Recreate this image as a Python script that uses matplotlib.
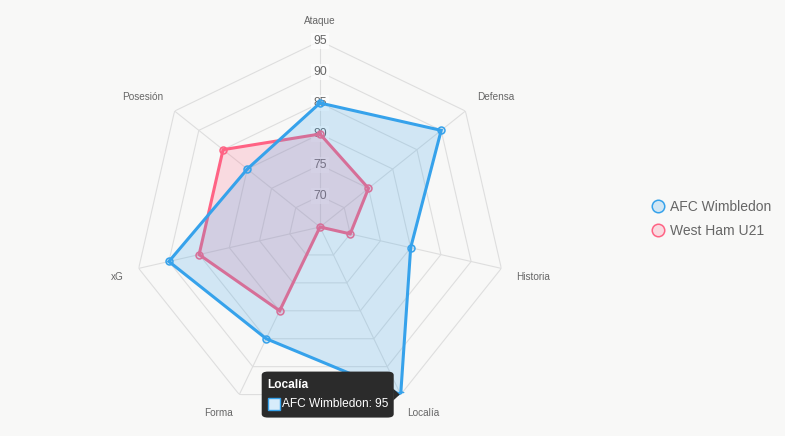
import numpy as np
import matplotlib
matplotlib.use("Agg")
from matplotlib import pyplot as plt
from matplotlib.lines import Line2D
from matplotlib.patches import FancyBboxPatch, Polygon, Rectangle

W, H = 785, 436
BG = '#f8f8f7'
GRID = '#dedede'
TEXT = '#666666'
BLUE = '#36a2eb'
PINK = '#ff6384'

labels = ['Ataque', 'Defensa', 'Historia', 'Localía', 'Forma', 'xG', 'Posesión']
afc_wimbledon = [85, 90, 80, 95, 85, 90, 80]
west_ham_u21 = [80, 75, 70, 65, 80, 85, 85]
ticks = [70, 75, 80, 85, 90, 95]
r_min, r_max = 65, 95

plt.rcParams['font.family'] = ['Liberation Sans', 'DejaVu Sans']

fig = plt.figure(figsize=(W / 100, H / 100), dpi=100, facecolor=BG)
ax = fig.add_axes([134 / W, 23 / H, 372 / W, 372 / H], projection='polar')
ax.set_theta_offset(np.pi / 2)
ax.set_theta_direction(-1)
ax.set_ylim(r_min, r_max)
ax.set_axis_off()

n = len(labels)
angles = np.arange(n) * 2 * np.pi / n
closed = np.append(angles, angles[0])

# polygon grid + spokes
for t in ticks:
    ax.plot(closed, [t] * (n + 1), color=GRID, lw=0.8, zorder=1)
for a in angles:
    ax.plot([a, a], [r_min, r_max], color=GRID, lw=0.8, zorder=1)

# tick labels along the top spoke
for t in ticks:
    ax.text(0, t, str(t), ha='center', va='center', fontsize=8.8, color=TEXT,
            zorder=2, bbox=dict(boxstyle='square,pad=0.15', fc='white',
                                ec='none', alpha=0.7))

# point labels, placed a bit outside the outer ring
r_lab = r_max + 15 / 6.2
for a, lab in zip(angles, labels):
    deg = np.degrees(a) % 360
    if np.isclose(deg, 0) or np.isclose(deg, 180):
        ha = 'center'
    elif deg < 180:
        ha = 'left'
    else:
        ha = 'right'
    va = 'bottom' if (deg < 90 or deg > 270) else 'top'
    ax.text(a, r_lab, lab, ha=ha, va=va, fontsize=7.2, color=TEXT, clip_on=False)


def draw_series(values, color, z):
    vals = np.append(values, values[0])
    ax.fill(closed, vals, color=color, alpha=0.2, lw=0, zorder=z)
    ax.plot(closed, vals, color=color, lw=2.2, zorder=z + 0.1,
            solid_joinstyle='miter')
    ax.plot(angles, values, ls='', marker='o', ms=5, mew=1.1,
            mfc=matplotlib.colors.to_rgba(color, 0.2), mec=color, zorder=z + 0.2)


# second dataset is painted first, like the original
draw_series(west_ham_u21, PINK, 3)
draw_series(afc_wimbledon, BLUE, 4)

# legend
handles = [
    Line2D([], [], ls='', marker='o', ms=9, mew=1.1,
           mfc=matplotlib.colors.to_rgba(BLUE, 0.2), mec=BLUE),
    Line2D([], [], ls='', marker='o', ms=9, mew=1.1,
           mfc=matplotlib.colors.to_rgba(PINK, 0.2), mec=PINK),
]
fig.legend(handles, ['AFC Wimbledon', 'West Ham U21'], loc='center left',
           bbox_to_anchor=(637 / W, 1 - 219 / H), frameon=False, fontsize=10,
           labelcolor=TEXT, handletextpad=0.3, labelspacing=0.75,
           handlelength=1.2)

# tooltip at the hovered point (Localía, AFC Wimbledon)
idx = labels.index('Localía')
px, py = ax.transData.transform((angles[idx], afc_wimbledon[idx]))
bw, bh = 132, 46
right = px - 7
left = right - bw
bottom = py - bh / 2
tip = '#2b2b2b'
fig.patches.append(FancyBboxPatch((left / W, bottom / H), bw / W, bh / H,
                                  boxstyle='round,pad=0,rounding_size=0.008',
                                  fc=tip, ec='none', transform=fig.transFigure,
                                  zorder=10))
fig.patches.append(Polygon([((right - 0.5) / W, (py - 6) / H), ((px - 1) / W, py / H),
                            ((right - 0.5) / W, (py + 6) / H)], closed=True,
                           fc=tip, ec='none', transform=fig.transFigure, zorder=10))
fig.text((left + 6) / W, (bottom + bh - 13) / H, labels[idx], color='white',
         fontsize=8.6, fontweight='bold', va='center', ha='left', zorder=11)
fig.patches.append(Rectangle(((left + 6) / W, (bottom + 8) / H), 12 / W, 12 / H,
                             fc='#d7ecfb', ec=BLUE, lw=1.0,
                             transform=fig.transFigure, zorder=11))
fig.text((left + 20) / W, (bottom + 14) / H,
         f'AFC Wimbledon: {afc_wimbledon[idx]}', color='white', fontsize=8.6,
         va='center', ha='left', zorder=11)

fig.savefig('out.png', dpi=100, facecolor=BG)
